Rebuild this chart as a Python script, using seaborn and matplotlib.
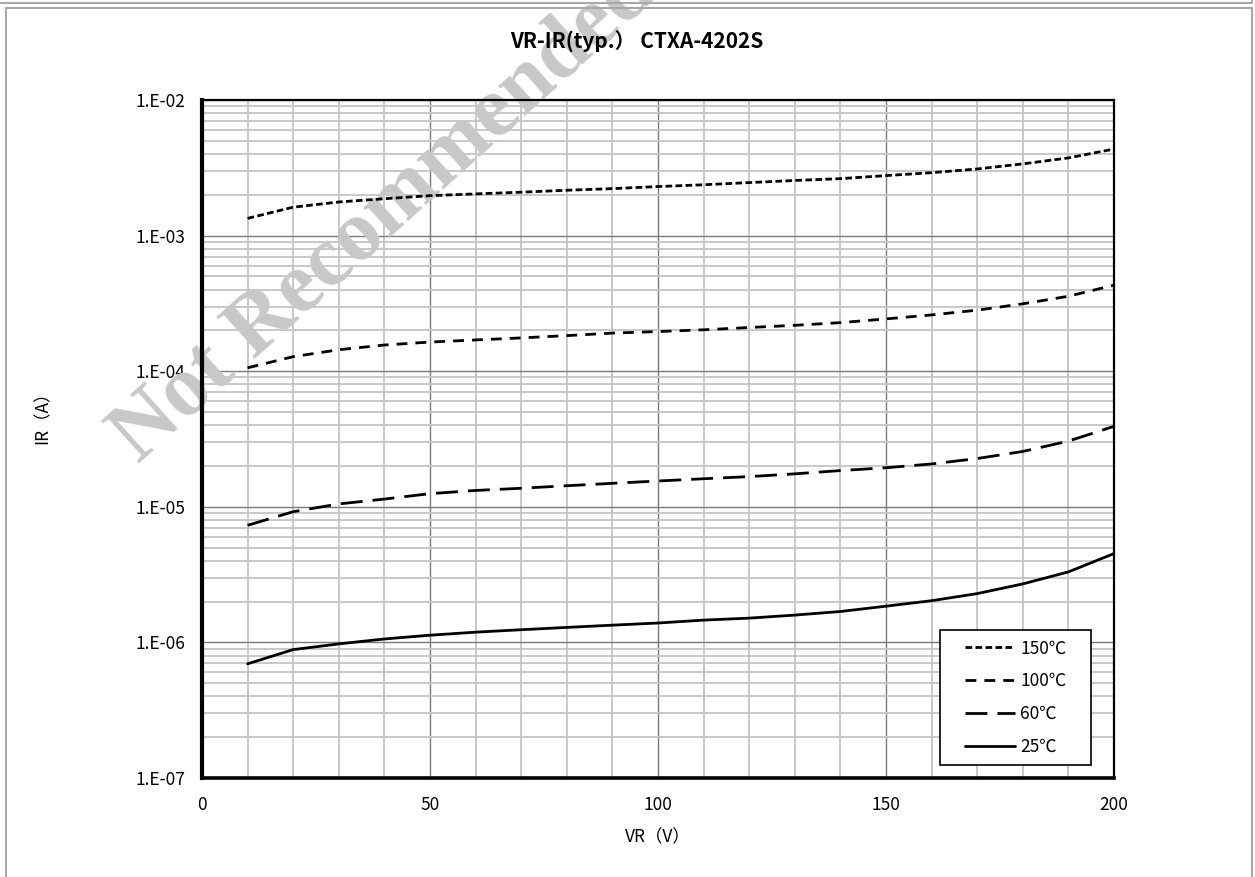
import pandas as pd
import matplotlib
matplotlib.use('Agg')
import matplotlib.pyplot as plt
from matplotlib.lines import Line2D
from matplotlib.patches import Rectangle
from matplotlib.ticker import FixedLocator, NullFormatter
import seaborn as sns

# ==================================================
# Dados (VR em V, IR em A)
# ==================================================
vr = [10, 20, 30, 40, 50, 60, 70, 80, 90, 100,
      110, 120, 130, 140, 150, 160, 170, 180, 190, 200]

ir_150 = [1.34e-3, 1.62e-3, 1.77e-3, 1.87e-3, 1.97e-3, 2.03e-3, 2.09e-3, 2.16e-3, 2.22e-3, 2.30e-3,
          2.37e-3, 2.46e-3, 2.55e-3, 2.63e-3, 2.77e-3, 2.91e-3, 3.10e-3, 3.38e-3, 3.74e-3, 4.35e-3]
ir_100 = [1.06e-4, 1.28e-4, 1.44e-4, 1.56e-4, 1.64e-4, 1.70e-4, 1.76e-4, 1.83e-4, 1.91e-4, 1.96e-4,
          2.02e-4, 2.10e-4, 2.18e-4, 2.28e-4, 2.43e-4, 2.60e-4, 2.82e-4, 3.14e-4, 3.57e-4, 4.31e-4]
ir_60 = [7.3e-6, 9.2e-6, 1.05e-5, 1.14e-5, 1.25e-5, 1.32e-5, 1.37e-5, 1.43e-5, 1.49e-5, 1.55e-5,
         1.61e-5, 1.67e-5, 1.75e-5, 1.85e-5, 1.94e-5, 2.07e-5, 2.27e-5, 2.56e-5, 3.05e-5, 3.92e-5]
ir_25 = [6.95e-7, 8.85e-7, 9.75e-7, 1.06e-6, 1.13e-6, 1.19e-6, 1.24e-6, 1.29e-6, 1.34e-6, 1.39e-6,
         1.46e-6, 1.51e-6, 1.59e-6, 1.69e-6, 1.85e-6, 2.03e-6, 2.29e-6, 2.70e-6, 3.31e-6, 4.52e-6]

temps = ['150℃', '100℃', '60℃', '25℃']
series = [ir_150, ir_100, ir_60, ir_25]

x_ticks = [0, 50, 100, 150, 200]
x_tick_labels = ['0', '50', '100', '150', '200']
y_ticks = [1e-7, 1e-6, 1e-5, 1e-4, 1e-3, 1e-2]
y_tick_labels = ['1.E-07', '1.E-06', '1.E-05', '1.E-04', '1.E-03', '1.E-02']

# ==================================================
# Estilo
# ==================================================
sns.set_style('white')
plt.rcParams['font.family'] = ['Noto Sans CJK JP', 'DejaVu Sans']
plt.rcParams['axes.unicode_minus'] = False
plt.rcParams['text.color'] = 'black'
plt.rcParams['axes.labelcolor'] = 'black'
plt.rcParams['xtick.color'] = 'black'
plt.rcParams['ytick.color'] = 'black'

W, H = 1255, 877
LW = 2.0
dash_map = {'150℃': (2.4, 1.2), '100℃': (3.9, 2.9), '60℃': (7.9, 3.6), '25℃': ''}

df = pd.concat([pd.DataFrame({'VR': vr, 'IR': s, 'temp': t}) for t, s in zip(temps, series)],
               ignore_index=True)

fig = plt.figure(figsize=(W / 100, H / 100), dpi=100)
ax = fig.add_axes([202 / W, 1 - 778 / H, 912 / W, 678 / H])
ax.set_yscale('log')

sns.lineplot(data=df, x='VR', y='IR', style='temp', style_order=temps, dashes=dash_map,
             color='black', linewidth=LW, legend=False, ax=ax, zorder=3)

ax.set_xlim(0, 200)
ax.set_ylim(1e-7, 1e-2)

ax.xaxis.set_major_locator(FixedLocator(x_ticks))
ax.set_xticklabels(x_tick_labels)
ax.xaxis.set_minor_locator(FixedLocator(list(range(0, 201, 10))))
ax.yaxis.set_major_locator(FixedLocator(y_ticks))
ax.set_yticklabels(y_tick_labels)
minor_y = [m * 10.0 ** e for e in range(-7, -2) for m in range(2, 10)]
ax.yaxis.set_minor_locator(FixedLocator(minor_y))
ax.yaxis.set_minor_formatter(NullFormatter())

ax.set_axisbelow(True)
ax.grid(which='minor', color='#c4c4c4', linewidth=1.3)
ax.grid(which='major', color='#7a7a7a', linewidth=1.0)
ax.tick_params(which='major', direction='in', length=4, width=2, colors='black', labelsize=12.5)
ax.tick_params(axis='x', which='major', pad=13)
ax.tick_params(axis='y', which='major', pad=12)
ax.tick_params(which='minor', length=0)

for side, lw in [('left', 3.0), ('bottom', 2.6), ('top', 1.6), ('right', 1.6)]:
    ax.spines[side].set_visible(True)
    ax.spines[side].set_color('black')
    ax.spines[side].set_linewidth(lw)

ax.set_xlabel('VR（V）', fontsize=12.5, color='black')
ax.set_ylabel('IR（A）', fontsize=12.5, color='black')
ax.yaxis.set_label_coords((52 - 202) / 912, (778 - 413) / 678)
ax.xaxis.set_label_coords(0.5, -0.074)

fig.text(637 / W, 1 - 42 / H, 'VR-IR(typ.） CTXA-4202S', ha='center', va='center',
         fontsize=15, fontweight='bold', color='black')

# Legenda (moldura desenhada à parte)
bx0, bx1, by0, by1 = 940, 1091, 630, 765
ax.add_patch(Rectangle((bx0 / W, 1 - by1 / H), (bx1 - bx0) / W, (by1 - by0) / H,
                       transform=fig.transFigure, facecolor='white', edgecolor='black',
                       linewidth=1.2, clip_on=False, zorder=4))
handles = [Line2D([], [], color='black', linewidth=LW,
                  linestyle=(0, dash_map[t]) if dash_map[t] else '-') for t in temps]
leg = ax.legend(handles, temps, loc='center',
                bbox_to_anchor=((bx0 + bx1) / 2 / W, 1 - (by0 + by1) / 2 / H),
                bbox_transform=fig.transFigure, fontsize=12.5, frameon=False,
                handlelength=2.9, handletextpad=0.3, labelspacing=0.85, borderpad=0,
                labelcolor='black')
leg.set_zorder(5)

# Marca d'água
ax.text(385 / W, 1 - 215 / H, 'Not Recommended', transform=fig.transFigure,
        rotation=42, rotation_mode='anchor', ha='center', va='center',
        fontsize=62, fontweight='bold', family='Liberation Serif',
        color='#c8c8c8', clip_on=False, zorder=1)

# Moldura
fr = '#a8a8a8'
for xs, ys in [([0, 1252], [3, 3]), ([1252, 1252], [0, 3]), ([6, 1252], [8, 8]),
               ([6, 6], [8, H]), ([1252, 1252], [8, H])]:
    fig.add_artist(Line2D([x / W for x in xs], [1 - y / H for y in ys],
                          transform=fig.transFigure, color=fr, lw=1.5))

fig.savefig('out.png', dpi=100)
